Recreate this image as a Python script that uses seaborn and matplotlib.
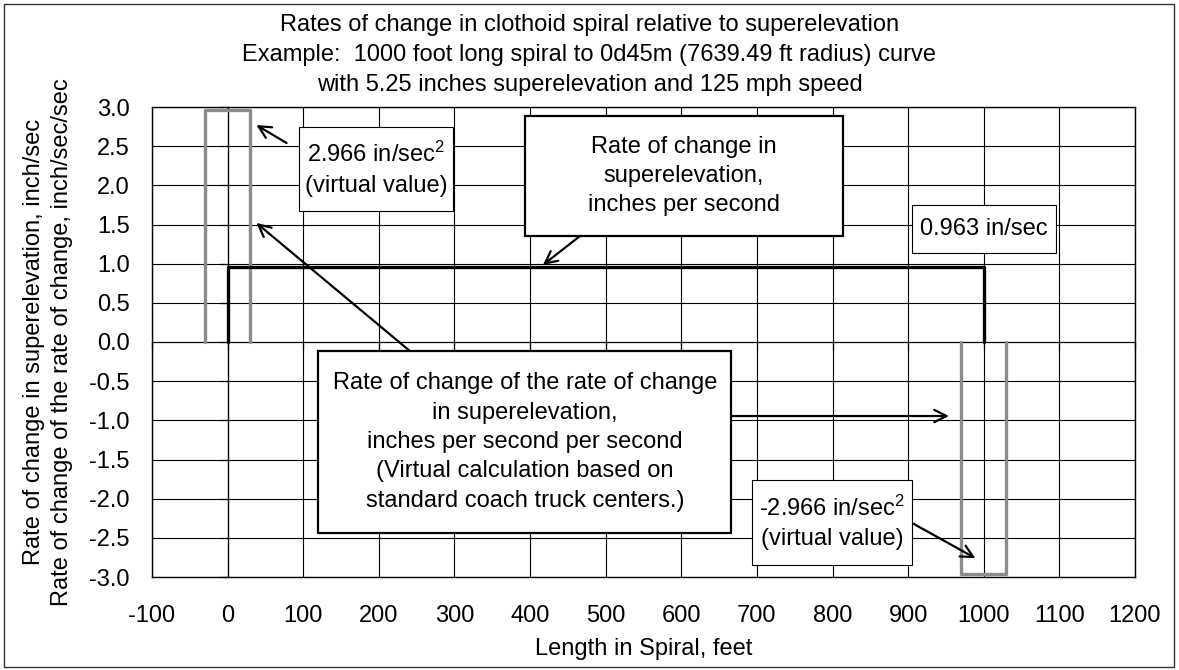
import matplotlib
matplotlib.use("Agg")
import matplotlib.pyplot as plt
from matplotlib.patches import Rectangle
import pandas as pd
import seaborn as sns

# series
spiral_x = [0, 0, 1000, 1000]
superelev_rate = [0, 0.963, 0.963, 0]

# virtual rate of change of the rate of change: two pulses at the spiral ends
virtual_x = [-29.75, -29.75, 29.75, 29.75, 970.25, 970.25, 1029.75, 1029.75]
virtual_rate = [0, 2.966, 2.966, 0, 0, -2.966, -2.966, 0]
virtual_pulse = [1, 1, 1, 1, 2, 2, 2, 2]

x_ticks = list(range(-100, 1201, 100))
y_ticks = [-3.0, -2.5, -2.0, -1.5, -1.0, -0.5, 0.0, 0.5, 1.0, 1.5, 2.0, 2.5, 3.0]

title_lines = [
    "Rates of change in clothoid spiral relative to superelevation",
    "Example:  1000 foot long spiral to 0d45m (7639.49 ft radius) curve",
    "with 5.25 inches superelevation and 125 mph speed",
]

sns.set_theme(style="white")
plt.rcParams["font.family"] = ["Liberation Sans", "DejaVu Sans"]
plt.rcParams["mathtext.fontset"] = "custom"
plt.rcParams["mathtext.rm"] = "Liberation Sans"
plt.rcParams["mathtext.it"] = "Liberation Sans"
plt.rcParams["axes.unicode_minus"] = False

FS = 17

fig = plt.figure(figsize=(11.79, 6.70), dpi=100)
ax = fig.add_axes([152 / 1179, 1 - 577 / 670, 983 / 1179, 470 / 670])

# figure border
fig.patches.append(Rectangle((4 / 1179, 3 / 670), 1170 / 1179, 663 / 670,
                             transform=fig.transFigure, fill=False,
                             edgecolor="#333333", lw=1.0))

virtual_df = pd.DataFrame({"x": virtual_x, "y": virtual_rate, "pulse": virtual_pulse})
sns.lineplot(data=virtual_df, x="x", y="y", units="pulse", sort=False,
             estimator=None, color="#8c8c8c", lw=2.4, ax=ax, zorder=3)
sns.lineplot(x=spiral_x, y=superelev_rate, sort=False, estimator=None,
             color="black", lw=2.4, ax=ax, zorder=4)

ax.set_xlim(-100, 1200)
ax.set_ylim(-3, 3)
ax.set_xticks(x_ticks)
ax.set_yticks(y_ticks)
ax.set_yticklabels([f"{v:.1f}" for v in y_ticks])
ax.grid(True, color="black", lw=0.8)
ax.tick_params(axis="both", length=0, labelsize=FS, labelcolor="black")
ax.tick_params(axis="x", pad=20)
ax.tick_params(axis="y", pad=16)
for s in ax.spines.values():
    s.set_color("black")
    s.set_linewidth(1.0)

# axes crossing at x=0 and y=0 with tick marks
sec_y = ax.secondary_yaxis(100 / 1300)
sec_y.set_yticks(y_ticks)
sec_y.tick_params(axis="y", direction="out", length=5.5, width=0.9,
                  color="black", labelleft=False, labelright=False)
sec_y.spines["left"].set_color("black")
sec_y.spines["left"].set_linewidth(0.9)

sec_x = ax.secondary_xaxis(0.5)
sec_x.set_xticks(x_ticks)
sec_x.tick_params(axis="x", direction="in", length=5.5, width=0.9,
                  color="black", labeltop=False, labelbottom=False)
sec_x.spines["top"].set_color("#808080")
sec_x.spines["top"].set_linewidth(0.9)

ax.set_xlabel("Length in Spiral, feet", fontsize=FS, color="black")
ax.set_ylabel("Rate of change in superelevation, inch/sec\n"
              "Rate of change of the rate of change, inch/sec/sec",
              fontsize=FS, color="black", linespacing=1.36)
ax.yaxis.set_label_coords(-79 / 983, 0.5)
ax.xaxis.set_label_coords(0.5, -61 / 470)

fig.text(0.5, 1 - 55 / 670, "\n".join(title_lines), ha="center", va="center",
         fontsize=FS, color="black", linespacing=1.45)


def note(x0, x1, y0, y1, text, lw):
    ax.add_patch(Rectangle((x0, y0), x1 - x0, y1 - y0, facecolor="white",
                           edgecolor="black", lw=lw, zorder=6))
    ax.text((x0 + x1) / 2, (y0 + y1) / 2, text, ha="center", va="center",
            fontsize=FS, color="black", linespacing=1.43, zorder=7)


def arrow(tail, head):
    ax.annotate("", xy=head, xytext=tail, zorder=8,
                arrowprops=dict(arrowstyle="->", color="black", lw=1.6,
                                shrinkA=0, shrinkB=0, mutation_scale=22))


note(94, 298, 1.67, 2.74, "2.966 in/sec$^{2}$\n(virtual value)", 0.8)
arrow((78, 2.54), (38, 2.77))

note(393, 814, 1.353, 2.885, "Rate of change in\nsuperelevation,\ninches per second", 1.6)
arrow((466, 1.353), (417, 0.983))

note(905, 1095, 1.14, 1.75, "0.963 in/sec", 0.8)

note(120, 666, -2.44, -0.115,
     "Rate of change of the rate of change\nin superelevation,\n"
     "inches per second per second\n(Virtual calculation based on\n"
     "standard coach truck centers.)", 1.6)
arrow((241, -0.115), (38, 1.52))
arrow((666, -0.945), (954, -0.945))

note(694, 905, -2.85, -1.76, "-2.966 in/sec$^{2}$\n(virtual value)", 0.8)
arrow((907, -2.32), (989, -2.76))

fig.savefig("out.png", dpi=100)
